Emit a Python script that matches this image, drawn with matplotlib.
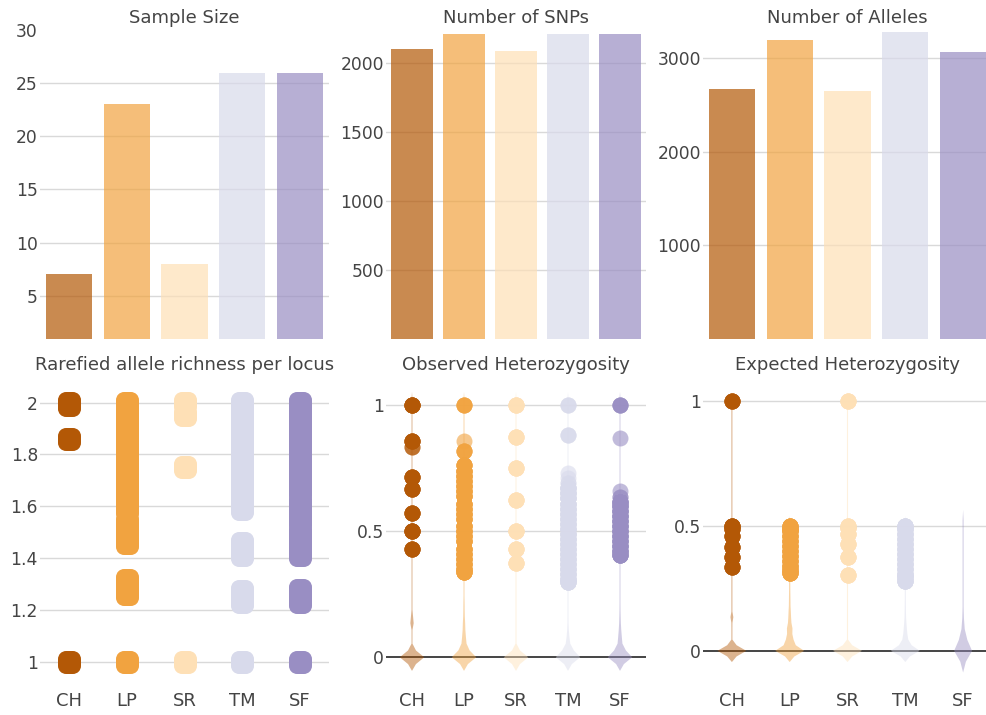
import numpy as np
import matplotlib
matplotlib.use("Agg")
import matplotlib.pyplot as plt
from matplotlib.path import Path

POPS = ["CH", "LP", "SR", "TM", "SF"]
COLORS = ["#b35806", "#f1a340", "#fee0b6", "#d8daeb", "#998ec3"]

SAMPLE_SIZE = [7, 23, 8, 26, 26]
NUM_SNPS = [2104, 2213, 2089, 2213, 2213]
NUM_ALLELES = [2668, 3193, 2647, 3278, 3064]

AR_VALUES = [
    [2.0, 1.99, 1.86, 1.0],
    [2.0, 1.97, 1.94, 1.91, 1.88, 1.85, 1.82, 1.79, 1.76, 1.73, 1.70, 1.67, 1.64, 1.61, 1.585,
     1.54, 1.51, 1.48, 1.46, 1.317, 1.29, 1.26, 1.0],
    [2.0, 1.953, 1.753, 1.0],
    [2.0, 1.97, 1.94, 1.91, 1.88, 1.85, 1.82, 1.79, 1.76, 1.73, 1.70, 1.67, 1.655, 1.615, 1.59,
     1.458, 1.435, 1.411, 1.271, 1.25, 1.231, 1.0],
    [2.0, 1.97, 1.94, 1.91, 1.88, 1.85, 1.82, 1.79, 1.76, 1.73, 1.70, 1.67, 1.655, 1.615, 1.59,
     1.56, 1.54, 1.50, 1.47, 1.44, 1.41, 1.275, 1.25, 1.232, 1.0],
]

# observed heterozygosity: violin body (value, loci) and outlier points (value, loci)
HO_BODY_VALS = [
    [0, 0.143, 0.286],
    [0, 0.043, 0.087, 0.13, 0.174, 0.217, 0.26, 0.304],
    [0, 0.125, 0.25],
    [0, 0.038, 0.077, 0.115, 0.154, 0.192, 0.231, 0.269],
    [0, 0.038, 0.077, 0.115, 0.154, 0.192, 0.231, 0.269],
]
HO_BODY_CNTS = [
    [1000, 150, 40],
    [1000, 210, 140, 90, 60, 45, 35, 30],
    [1000, 40, 15],
    [1000, 200, 100, 50, 30, 25, 20, 15],
    [1000, 200, 130, 80, 50, 35, 25, 20],
]
HO_PT_VALS = [
    [1.0, 0.857, 0.833, 0.714, 0.667, 0.571, 0.5, 0.429],
    [1.0, 0.857, 0.818, 0.762, 0.74, 0.72, 0.70, 0.68, 0.66, 0.64, 0.61, 0.59, 0.57, 0.55,
     0.52, 0.50, 0.48, 0.46, 0.43, 0.41, 0.39, 0.37, 0.35, 0.34],
    [1.0, 0.875, 0.75, 0.625, 0.5, 0.429, 0.375],
    [1.0, 0.88, 0.73, 0.71, 0.69, 0.67, 0.65, 0.63, 0.61, 0.59, 0.57, 0.55, 0.53, 0.51, 0.49,
     0.47, 0.45, 0.43, 0.41, 0.39, 0.37, 0.35, 0.33, 0.31, 0.30],
    [1.0, 0.87, 0.66, 0.635, 0.615, 0.60, 0.58, 0.56, 0.54, 0.52, 0.50, 0.48, 0.46, 0.44,
     0.42, 0.405],
]
HO_PT_CNTS = [
    [8, 6, 2, 6, 6, 6, 8, 6],
    [4, 1, 4, 6] + [8] * 20,
    [6, 6, 6, 6, 6, 6, 6],
    [3, 3, 1, 1, 2] + [8] * 20,
    [4, 1, 1, 2] + [8] * 12,
]

# expected heterozygosity
HE_BODY_VALS = [
    [0, 0.133, 0.245],
    [0, 0.043, 0.083, 0.122, 0.159, 0.194, 0.227, 0.259, 0.289],
    [0, 0.117, 0.219],
    [0, 0.038, 0.075, 0.11, 0.145, 0.178, 0.21, 0.24, 0.27],
    [0, 0.04, 0.08, 0.12, 0.16, 0.25, 0.35, 0.45, 0.5],
]
HE_BODY_CNTS = [
    [1000, 100, 20],
    [1000, 250, 200, 110, 70, 50, 40, 35, 30],
    [1000, 40, 10],
    [1000, 200, 130, 70, 45, 35, 28, 22, 20],
    [1000, 120, 120, 60, 25, 10, 8, 20, 40],
]
HE_PT_VALS = [
    [1.0, 0.5, 0.49, 0.459, 0.417, 0.375, 0.337],
    [0.5, 0.49, 0.48, 0.46, 0.44, 0.42, 0.40, 0.38, 0.36, 0.34, 0.325, 0.311],
    [1.0, 0.5, 0.492, 0.469, 0.43, 0.375, 0.305],
    [0.5, 0.49, 0.47, 0.45, 0.43, 0.41, 0.39, 0.37, 0.35, 0.33, 0.31, 0.295, 0.28],
    [],
]
HE_PT_CNTS = [
    [6, 8, 6, 6, 6, 6, 6],
    [8] * 12,
    [6, 6, 6, 6, 6, 6, 6],
    [8] * 13,
    [],
]

HO_BW = [0.018] * 5
HE_BW = [0.015, 0.015, 0.015, 0.015, 0.029]
HO_HALF = [0.235] * 5
HE_HALF = [0.25, 0.25, 0.25, 0.25, 0.155]
TAIL = 0.009

TXT = "#444444"
GRID = "#d9d9d9"
plt.rcParams["font.family"] = ["DejaVu Sans"]

W, H = 986, 715
fig = plt.figure(figsize=(W / 100, H / 100), dpi=100)

cols = [(40, 329), (386, 646), (703, 992)]
rows = [(30, 339), (377, 686)]


def make_ax(r, c):
    x0, x1 = cols[c]
    y0, y1 = rows[r]
    ax = fig.add_axes([x0 / W, 1 - y1 / H, (x1 - x0) / W, (y1 - y0) / H])
    for s in ax.spines.values():
        s.set_visible(False)
    ax.set_xlim(-0.5, 4.5)
    ax.tick_params(axis="y", length=0, labelsize=12.3, labelcolor=TXT, pad=1.5)
    ax.tick_params(axis="x", length=0, labelsize=13, labelcolor=TXT, pad=4.5)
    return ax


def set_grid(ax, ticks, lo, hi, zero=False):
    ax.set_ylim(lo, hi)
    ax.set_yticks(ticks)
    for t in ticks:
        if zero and t == 0:
            ax.axhline(0, color=TXT, lw=1.4, zorder=1)
        elif lo < t < hi:
            ax.axhline(t, color=GRID, lw=1.0, zorder=0)


def rounded_square(r=0.7):
    corners = [(1 - r, 1 - r, 0), (r - 1, 1 - r, 90), (r - 1, r - 1, 180), (1 - r, r - 1, 270)]
    verts, codes = [], []
    for i, (cx, cy, t0) in enumerate(corners):
        arc = Path.arc(t0, t0 + 90)
        c = arc.codes.copy()
        if i > 0:
            c[0] = Path.LINETO
        verts.append(arc.vertices * r + [cx, cy])
        codes.append(c)
    verts = np.vstack(verts + [np.array([[0.0, 0.0]])])
    codes = np.concatenate(codes + [np.array([Path.CLOSEPOLY])])
    return Path(verts, codes)


def draw_violin(ax, pos, vals, cnts, bw, half, color):
    vals = np.asarray(vals, float)
    cnts = np.asarray(cnts, float)
    step = 1.5 * bw
    y = np.arange(vals.min() - 2 * step, vals.max() + 2.01 * step, step)
    dens = (cnts * np.exp(-0.5 * ((y[:, None] - vals) / bw) ** 2)).sum(axis=1)
    w = half * dens / dens.max()
    w[1:-1] = np.maximum(w[1:-1], TAIL)
    w[[0, -1]] = 0
    ax.fill_betweenx(y, pos - w, pos + w, facecolor=color, alpha=0.45, lw=0, zorder=2)


def title(c, r, text):
    x0, x1 = cols[c]
    base = [22.7, 370][r]
    fig.text((x0 + x1) / 2 / W, 1 - base / H, text, ha="center", va="baseline",
             fontsize=13, color=TXT)


# --- top row: bars
bar_data = [SAMPLE_SIZE, NUM_SNPS, NUM_ALLELES]
bar_titles = ["Sample Size", "Number of SNPs", "Number of Alleles"]
bar_ticks = [[5, 10, 15, 20, 25, 30], [500, 1000, 1500, 2000], [1000, 2000, 3000]]
bar_lims = [(0.93, 29.95), (0, 2241.6), (0, 3299.5)]
for c in range(3):
    ax = make_ax(0, c)
    ax.bar(range(5), bar_data[c], width=0.8, color=COLORS, alpha=0.7, zorder=2)
    set_grid(ax, bar_ticks[c], *bar_lims[c])
    ax.set_xticks([])
    title(c, 0, bar_titles[c])

# --- rarefied allele richness
ax = make_ax(1, 0)
set_grid(ax, [1, 1.2, 1.4, 1.6, 1.8, 2], 0.906, 2.099)
ax.set_yticklabels(["1", "1.2", "1.4", "1.6", "1.8", "2"])
sq = rounded_square()
for i, vals in enumerate(AR_VALUES):
    ax.scatter(np.full(len(vals), i), vals, s=274, marker=sq, color=COLORS[i], lw=0, zorder=3)
ax.set_xticks(range(5))
ax.set_xticklabels(POPS)
title(0, 1, "Rarefied allele richness per locus")

# --- heterozygosity violins
het = [
    (HO_BODY_VALS, HO_BODY_CNTS, HO_PT_VALS, HO_PT_CNTS, HO_BW, HO_HALF, (-0.114, 1.112),
     "Observed Heterozygosity"),
    (HE_BODY_VALS, HE_BODY_CNTS, HE_PT_VALS, HE_PT_CNTS, HE_BW, HE_HALF, (-0.141, 1.098),
     "Expected Heterozygosity"),
]
for c, (bv, bc, pv, pc, bws, halves, lims, name) in enumerate(het, start=1):
    ax = make_ax(1, c)
    set_grid(ax, [0, 0.5, 1], *lims, zero=True)
    ax.set_yticklabels(["0", "0.5", "1"])
    for i in range(5):
        draw_violin(ax, i, bv[i] + pv[i], bc[i] + pc[i], bws[i], halves[i], COLORS[i])
        if pv[i]:
            ys = np.repeat(pv[i], pc[i])
            ax.scatter(np.full(len(ys), i), ys, s=132, color=COLORS[i], alpha=0.6, lw=0,
                       zorder=3)
    ax.set_xticks(range(5))
    ax.set_xticklabels(POPS)
    title(c, 1, name)

fig.savefig("out.png", dpi=100)
